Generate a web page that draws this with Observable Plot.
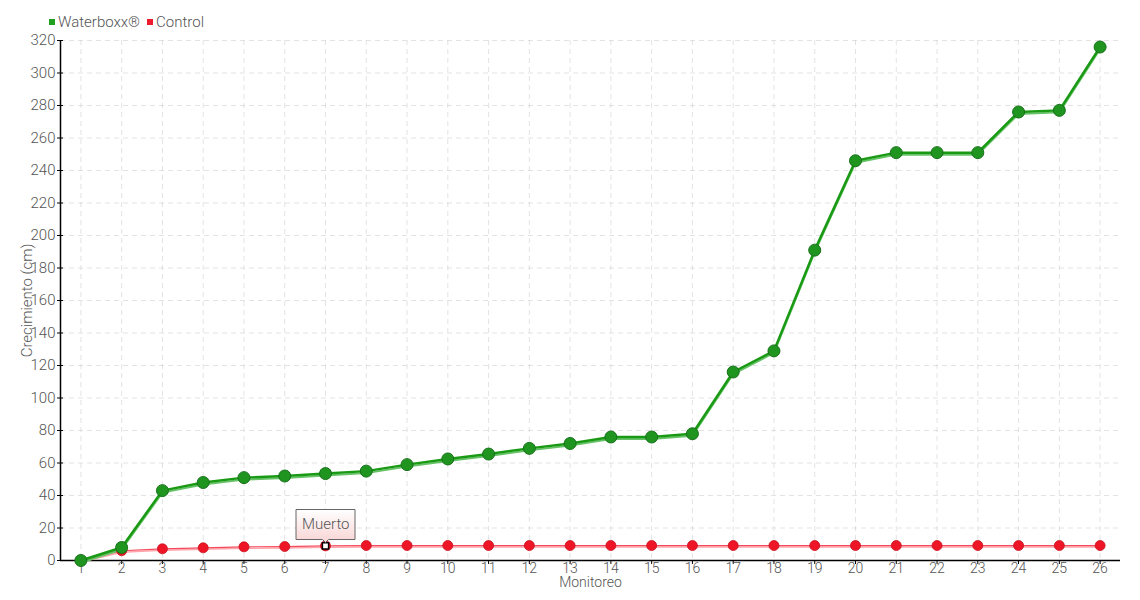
<!DOCTYPE html>
<html>
<head>
<meta charset="utf-8">
<script src="https://cdn.jsdelivr.net/npm/d3@7"></script>
<script src="https://cdn.jsdelivr.net/npm/@observablehq/plot@0.6"></script>
<style>
  body { margin: 0; background: #fff; }
  #wrap { position: relative; width: 1140px; height: 600px; font-family: Roboto, sans-serif; font-weight: 300; }
  #legend { position: absolute; top: 13px; left: 49px; font-size: 15px; color: #555; display: flex; gap: 7px; align-items: center; }
  #legend span.sw { display: inline-block; width: 6px; height: 6px; margin-right: 3px; vertical-align: middle; }
  #legend .item { display: flex; align-items: center; }
</style>
</head>
<body>
<div id="wrap">
  <div id="legend"></div>
</div>
<script>
const monitoreo = [1,2,3,4,5,6,7,8,9,10,11,12,13,14,15,16,17,18,19,20,21,22,23,24,25,26];
const waterboxx = [0,8,43,48,51,52,53.5,55,59,62.5,65.5,69,72,76,76,78,116,129,191,246,251,251,251,276,277,316];
const control   = [0,6,7.2,7.8,8.4,8.6,9,9.2,9.2,9.2,9.2,9.2,9.2,9.2,9.2,9.2,9.2,9.2,9.2,9.2,9.2,9.2,9.2,9.2,9.2,9.2];
const yTicks = [0,20,40,60,80,100,120,140,160,180,200,220,240,260,280,300,320];
const seriesNames = ["Waterboxx®", "Control"];
const seriesColors = ["#1fa01f", "#ee1b2c"];
const tipIndex = 6;
const tipLabel = "Muerto";

const green = monitoreo.map((m, i) => ({m, v: waterboxx[i]}));
const red = monitoreo.map((m, i) => ({m, v: control[i]}));
const tipData = [{m: monitoreo[tipIndex], v: control[tipIndex], label: tipLabel}];

const legend = document.getElementById("legend");
seriesNames.forEach((n, i) => {
  const d = document.createElement("div");
  d.className = "item";
  d.innerHTML = `<span class="sw" style="background:${seriesColors[i]}"></span>${n}`;
  legend.appendChild(d);
});

const font = `Roboto, sans-serif`;

const chart = Plot.plot({
  width: 1140,
  height: 600,
  marginLeft: 60,
  marginRight: 20,
  marginTop: 40,
  marginBottom: 40,
  style: {fontFamily: font, fontSize: "15px", fontWeight: 300, color: "#555", background: "#fff"},
  x: {type: "linear", domain: [0.5, 26.5], axis: null},
  y: {type: "linear", domain: [0, 320], axis: null},
  marks: [
    Plot.gridX(monitoreo, {stroke: "#ccc", strokeOpacity: 0.55, strokeDasharray: "5,4"}),
    Plot.gridY(yTicks, {stroke: "#ccc", strokeOpacity: 0.55, strokeDasharray: "5,4"}),
    Plot.ruleX([0.5], {stroke: "#000", strokeWidth: 1.5}),
    Plot.ruleY([0], {stroke: "#000", strokeWidth: 1.5}),
    Plot.ruleY(yTicks, {y: d => d, x1: 0.5, x2: 0.5, insetLeft: -3, insetRight: -3, stroke: "#000"}),
    Plot.text(yTicks, {x: 0.5, y: d => d, text: d => String(d), textAnchor: "end", dx: -5, fill: "#555", fontSize: 15}),
    Plot.ruleX(monitoreo, {x: d => d, y1: 0, y2: 0, insetTop: 0, insetBottom: -4, stroke: "#000"}),
    Plot.text(monitoreo, {x: d => d, y: 0, text: d => String(d), dy: 3, lineAnchor: "top", fill: "#555", fontSize: 14}),
    Plot.text(["Monitoreo"], {x: 13.5, y: 0, text: d => d, dy: 17, lineAnchor: "top", fill: "#555", fontSize: 14}),
    Plot.text(["Crecimiento (cm)"], {frameAnchor: "left", dx: -33, rotate: -90, textAnchor: "middle", text: d => d, fill: "#555", fontSize: 15}),
    // Control line
    Plot.line(red, {x: "m", y: "v", stroke: "#ffa5ad", strokeWidth: 1.5, dy: 1.5}),
    Plot.line(red, {x: "m", y: "v", stroke: "#f34b5c", strokeWidth: 1.2}),
    // Waterboxx line
    Plot.line(green, {x: "m", y: "v", stroke: "#66c266", strokeWidth: 2, dy: 2}),
    Plot.line(green, {x: "m", y: "v", stroke: "#1a9a14", strokeWidth: 2.5}),
    Plot.dot(red, {x: "m", y: "v", r: 5, fill: "#ee1626", stroke: "#c8101e", strokeWidth: 0.8}),
    Plot.dot(green, {x: "m", y: "v", r: 6, fill: "#1f951f", stroke: "#17701a", strokeWidth: 1}),
    Plot.dot(tipData, {x: "m", y: "v", r: 3.5, symbol: "square", fill: "#fff", stroke: "#000", strokeWidth: 1.5}),
    Plot.tip(tipData, {x: "m", y: "v", title: "label", anchor: "bottom", dy: -3, pointerSize: 6, textPadding: 6,
      fill: "url(#tipgrad)", stroke: "#666", fontSize: 15, pathFilter: "none"})
  ]
});

// gradient for the tooltip background
const defs = document.createElementNS("http://www.w3.org/2000/svg", "defs");
defs.innerHTML = `<linearGradient id="tipgrad" x1="0" y1="0" x2="0" y2="1">
  <stop offset="0" stop-color="#ffffff"/><stop offset="1" stop-color="#f9d4d4"/></linearGradient>`;
chart.insertBefore(defs, chart.firstChild);
chart.querySelectorAll("[aria-label=tip] text").forEach(t => t.setAttribute("fill", "#555"));

document.getElementById("wrap").appendChild(chart);
</script>
</body>
</html>
